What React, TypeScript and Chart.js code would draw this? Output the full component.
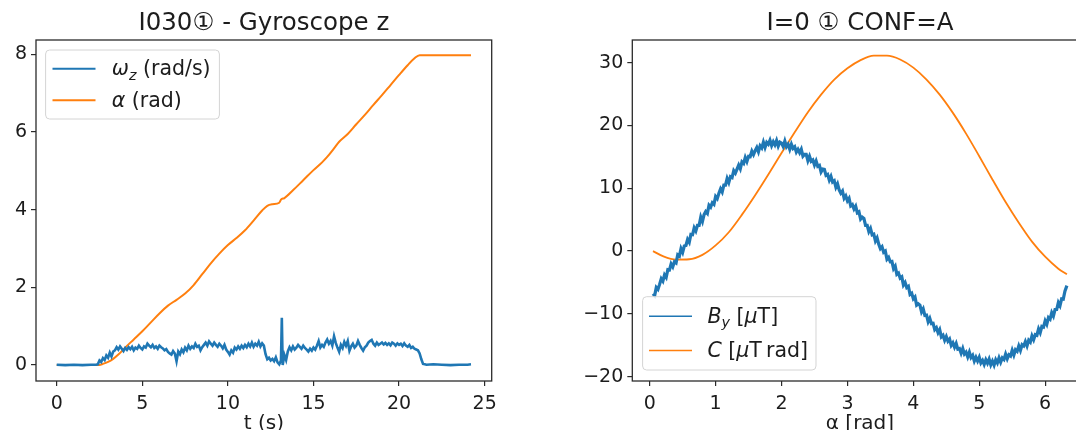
import React, { useEffect, useRef } from "react";
import { Chart, registerables } from "chart.js";

Chart.register(...registerables);

// ---------- tick labels ----------
const T_TICKS = [0, 5, 10, 15, 20, 25];
const LEFT_Y_TICKS = [0, 2, 4, 6, 8];
const A_TICKS = [0, 1, 2, 3, 4, 5, 6];
const RIGHT_Y_TICKS = [-20, -10, 0, 10, 20, 30];

// ---------- left panel: gyroscope ----------
const OMEGA_T = [
  0, 0.5, 1, 1.5, 2, 2.3,
  2.4, 2.5, 2.6, 2.7, 2.8, 2.9, 3.0, 3.1, 3.2, 3.3, 3.4, 3.5, 3.6, 3.7, 3.8, 3.9,
  4.0, 4.1, 4.2, 4.3, 4.4, 4.5, 4.6, 4.7, 4.8, 4.9, 5.0, 5.1, 5.2, 5.3, 5.4, 5.5, 5.6, 5.7, 5.8, 5.9,
  6.0, 6.1, 6.2, 6.3, 6.4, 6.5, 6.6, 6.7, 6.8, 6.9, 7.0, 7.1, 7.2, 7.3, 7.4, 7.5, 7.6, 7.7, 7.8, 7.9,
  8.0, 8.1, 8.2, 8.3, 8.4, 8.5, 8.6, 8.7, 8.8, 8.9, 9.0, 9.1, 9.2, 9.3, 9.4, 9.5, 9.6, 9.7, 9.8, 9.9,
  10.0, 10.1, 10.2, 10.3, 10.4, 10.5, 10.6, 10.7, 10.8, 10.9, 11.0, 11.1, 11.2, 11.3, 11.4, 11.5, 11.6, 11.7, 11.8, 11.9,
  12.0, 12.1, 12.2, 12.3, 12.4, 12.5, 12.6, 12.7, 12.8, 12.9, 13.0, 13.1, 13.15, 13.2, 13.3, 13.4, 13.5, 13.6, 13.7, 13.8, 13.9,
  14.0, 14.1, 14.2, 14.3, 14.4, 14.5, 14.6, 14.7, 14.8, 14.9, 15.0, 15.1, 15.2, 15.3, 15.4, 15.5, 15.6, 15.7, 15.8, 15.9,
  16.0, 16.1, 16.2, 16.3, 16.4, 16.5, 16.6, 16.7, 16.8, 16.9, 17.0, 17.1, 17.2, 17.3, 17.4, 17.5, 17.6, 17.7, 17.8, 17.9,
  18.0, 18.1, 18.2, 18.3, 18.4, 18.5, 18.6, 18.7, 18.8, 18.9, 19.0, 19.1, 19.2, 19.3, 19.4, 19.5, 19.6, 19.7, 19.8, 19.9,
  20.0, 20.1, 20.2, 20.3, 20.4, 20.5, 20.6, 20.7, 20.8, 20.9, 21.0, 21.1, 21.2, 21.3, 21.4, 21.5,
  21.6, 22, 22.5, 23, 23.5, 24, 24.2,
];
const OMEGA_Z = [
  0.01, 0.0, 0.01, 0.0, 0.01, 0.01,
  0.02, 0.12, 0.08, 0.18, 0.13, 0.25, 0.19, 0.32, 0.22, 0.35, 0.38, 0.46, 0.4, 0.48, 0.42, 0.36,
  0.44, 0.39, 0.46, 0.41, 0.47, 0.38, 0.45, 0.42, 0.5, 0.44, 0.4, 0.48, 0.45, 0.55, 0.5, 0.46, 0.52, 0.44, 0.48, 0.42,
  0.5, 0.46, 0.43, 0.38, 0.41, 0.34, 0.3, 0.27, 0.36, 0.3, 0.1, 0.35, 0.28, 0.4, 0.33, 0.45, 0.38, 0.5, 0.42, 0.48,
  0.44, 0.55, 0.47, 0.5, 0.38, 0.46, 0.52, 0.58, 0.5, 0.61, 0.55, 0.5, 0.58, 0.52, 0.47, 0.55, 0.5, 0.43, 0.52, 0.4,
  0.34, 0.27, 0.38, 0.32, 0.45, 0.4, 0.48, 0.42, 0.5, 0.44, 0.52, 0.46, 0.55, 0.48, 0.58, 0.47, 0.55, 0.5, 0.6, 0.48,
  0.56, 0.5, 0.28, 0.15, 0.19, 0.12, 0.16, 0.1, 0.2, 0.07, 0.02, 0.12, 1.22, 0.0, 0.26, 0.13, 0.35, 0.46, 0.38, 0.48, 0.4,
  0.45, 0.52, 0.47, 0.42, 0.5, 0.44, 0.4, 0.35, 0.42, 0.37, 0.45, 0.4, 0.5, 0.62, 0.45, 0.52, 0.47, 0.58, 0.66, 0.55,
  0.62, 0.5, 0.74, 0.57, 0.45, 0.34, 0.52, 0.44, 0.6, 0.5, 0.62, 0.37, 0.48, 0.55, 0.45, 0.5, 0.62, 0.52, 0.44, 0.37,
  0.46, 0.5, 0.58, 0.62, 0.65, 0.55, 0.5, 0.58, 0.52, 0.55, 0.58, 0.53, 0.57, 0.52, 0.56, 0.51, 0.58, 0.55, 0.5, 0.56,
  0.52, 0.55, 0.49, 0.56, 0.5, 0.47, 0.52, 0.44, 0.47, 0.42, 0.4, 0.38, 0.3, 0.15, 0.03, 0.02,
  0.01, 0.02, 0.01, 0.0, 0.01, 0.01, 0.02,
];

const ALPHA_T = [
  0, 2.4, 2.7, 3.0, 3.3, 3.6, 4.0, 4.5, 5.0, 5.5, 6.0, 6.5, 7.0, 7.5, 8.0, 8.5, 9.0, 9.5,
  10.0, 10.5, 11.0, 11.5, 12.0, 12.3, 12.6, 13.0, 13.1, 13.3, 13.8, 14.4, 15.0, 15.5, 15.8,
  16.2, 16.5, 17.0, 17.5, 18.0, 18.5, 19.0, 19.5, 20.0, 20.5, 20.9, 21.2, 24.2,
];
const ALPHA = [
  0, 0, 0.03, 0.08, 0.16, 0.27, 0.45, 0.66, 0.87, 1.1, 1.33, 1.53, 1.68, 1.84, 2.06, 2.34, 2.62, 2.87,
  3.09, 3.27, 3.47, 3.72, 3.98, 4.1, 4.14, 4.18, 4.26, 4.3, 4.5, 4.76, 5.02, 5.22, 5.36,
  5.58, 5.75, 5.95, 6.2, 6.44, 6.7, 6.95, 7.21, 7.47, 7.72, 7.9, 7.98, 7.98,
];

// ---------- right panel: field and its integral ----------
const BY_ALPHA = [
  0.05, 0.075, 0.1, 0.125, 0.15, 0.175, 0.2, 0.225, 0.25, 0.275, 0.3, 0.325, 0.35, 0.375, 0.4, 0.425, 0.45, 0.475,
  0.5, 0.525, 0.55, 0.575, 0.6, 0.625, 0.65, 0.675, 0.7, 0.725, 0.75, 0.775, 0.8, 0.825, 0.85, 0.875, 0.9, 0.925, 0.95, 0.975,
  1.0, 1.025, 1.05, 1.075, 1.1, 1.125, 1.15, 1.175, 1.2, 1.225, 1.25, 1.275, 1.3, 1.325, 1.35, 1.375, 1.4, 1.425, 1.45, 1.475,
  1.5, 1.525, 1.55, 1.575, 1.6, 1.625, 1.65, 1.675, 1.7, 1.725, 1.75, 1.775, 1.8, 1.825, 1.85, 1.875, 1.9, 1.925, 1.95, 1.975,
  2.0, 2.025, 2.05, 2.075, 2.1, 2.125, 2.15, 2.175, 2.2, 2.225, 2.25, 2.275, 2.3, 2.325, 2.35, 2.375, 2.4, 2.425, 2.45, 2.475,
  2.5, 2.525, 2.55, 2.575, 2.6, 2.625, 2.65, 2.675, 2.7, 2.725, 2.75, 2.775, 2.8, 2.825, 2.85, 2.875, 2.9, 2.925, 2.95, 2.975,
  3.0, 3.025, 3.05, 3.075, 3.1, 3.125, 3.15, 3.175, 3.2, 3.225, 3.25, 3.275, 3.3, 3.325, 3.35, 3.375, 3.4, 3.425, 3.45, 3.475,
  3.5, 3.525, 3.55, 3.575, 3.6, 3.625, 3.65, 3.675, 3.7, 3.725, 3.75, 3.775, 3.8, 3.825, 3.85, 3.875, 3.9, 3.925, 3.95, 3.975,
  4.0, 4.025, 4.05, 4.075, 4.1, 4.125, 4.15, 4.175, 4.2, 4.225, 4.25, 4.275, 4.3, 4.325, 4.35, 4.375, 4.4, 4.425, 4.45, 4.475,
  4.5, 4.525, 4.55, 4.575, 4.6, 4.625, 4.65, 4.675, 4.7, 4.725, 4.75, 4.775, 4.8, 4.825, 4.85, 4.875, 4.9, 4.925, 4.95, 4.975,
  5.0, 5.025, 5.05, 5.075, 5.1, 5.125, 5.15, 5.175, 5.2, 5.225, 5.25, 5.275, 5.3, 5.325, 5.35, 5.375, 5.4, 5.425, 5.45, 5.475,
  5.5, 5.525, 5.55, 5.575, 5.6, 5.625, 5.65, 5.675, 5.7, 5.725, 5.75, 5.775, 5.8, 5.825, 5.85, 5.875, 5.9, 5.925, 5.95, 5.975,
  6.0, 6.025, 6.05, 6.075, 6.1, 6.125, 6.15, 6.175, 6.2, 6.225, 6.25, 6.275, 6.3, 6.33,
];
const BY = [
  -6.8, -7.1, -5.8, -6.1, -5.3, -4.4, -4.8, -3.8, -4.2, -2.95, -3.0, -2.05, -2.5, -1.7, -1.9, -0.6, -0.8, 0.4,
  -0.2, 0.8, 0.9, 1.85, 1.4, 2.65, 2.6, 3.7, 3.2, 4.1, 4.1, 5.4, 4.7, 5.8, 6.3, 6.0, 7.3, 7.0, 7.7, 7.45,
  8.7, 8.35, 9.2, 9.9, 9.4, 10.5, 10.5, 11.55, 10.9, 11.85, 11.7, 12.8, 12.4, 13.05, 13.7, 13.1, 14.2, 13.95, 14.9, 14.25,
  15.1, 15.05, 15.9, 15.35, 16.0, 16.5, 15.8, 16.75, 16.4, 17.35, 16.5, 17.3, 17.0, 17.65, 16.8, 17.4, 16.9, 17.6, 16.7, 17.35,
  17.2, 16.65, 17.5, 16.6, 17.0, 16.2, 17.0, 16.35, 16.6, 15.75, 16.2, 15.65, 16.2, 15.1, 15.4, 15.4, 14.4, 15.1, 14.3, 14.5,
  13.7, 14.35, 13.5, 13.65, 12.6, 13.05, 13.0, 12.05, 12.2, 11.3, 11.9, 11.0, 11.2, 10.15, 10.7, 9.75, 9.2, 9.55, 8.4, 8.8,
  8.0, 8.4, 7.2, 7.4, 6.7, 7.15, 6.1, 6.25, 5.1, 5.4, 5.2, 4.1, 4.1, 3.1, 3.6, 2.6, 2.7, 1.6, 2.1, 1.1,
  0.4, 0.7, -0.2, 0.0, -1.3, -1.0, -1.7, -1.65, -2.8, -2.4, -3.7, -3.5, -4.3, -4.1, -5.4, -5.0, -5.8, -5.6, -6.9, -6.7,
  -7.6, -7.3, -8.6, -8.4, -8.6, -9.7, -9.2, -10.25, -10.2, -11.25, -10.7, -11.55, -11.5, -12.5, -12.2, -13.0, -12.5, -13.65, -13.4, -14.2,
  -13.6, -14.35, -14.0, -15.0, -14.6, -15.3, -14.7, -15.6, -15.5, -16.25, -15.5, -16.4, -16.1, -16.85, -16.1, -16.95, -16.6, -17.5, -16.9, -17.5,
  -16.9, -17.8, -17.4, -18.05, -17.3, -17.85, -17.2, -18.1, -17.5, -18.15, -17.3, -17.8, -17.0, -17.7, -17.0, -17.25, -16.4, -17.15, -16.5, -16.7,
  -15.8, -16.55, -15.7, -15.95, -15.1, -15.8, -14.9, -15.1, -14.4, -15.1, -14.2, -14.5, -13.5, -14.1, -13.3, -13.4, -12.4, -13.0, -12.0, -12.1,
  -11.1, -11.65, -10.6, -10.85, -9.8, -10.35, -9.3, -9.3, -8.2, -8.7, -7.6, -7.65, -6.4, -5.5,
];

const C_ALPHA = [
  0.05, 0.2, 0.4, 0.6, 0.8, 1.0, 1.2, 1.4, 1.6, 1.8, 2.0, 2.2, 2.4, 2.6, 2.8, 3.0, 3.2, 3.4,
  3.6, 3.8, 4.0, 4.2, 4.4, 4.6, 4.8, 5.0, 5.2, 5.4, 5.6, 5.8, 6.0, 6.2, 6.33,
];
const C_VAL = [
  0.0, -0.8, -1.35, -1.3, -0.6, 0.9, 3.0, 5.8, 8.9, 12.2, 15.6, 18.9, 22.1, 24.9, 27.3, 29.1, 30.4, 31.1,
  31.1, 30.5, 29.2, 27.3, 24.9, 22.0, 18.7, 15.1, 11.4, 7.8, 4.5, 1.5, -0.9, -2.8, -3.7,
];

const BLUE = "#1f77b4";
const ORANGE = "#ff7f0e";
const FONT = '"DejaVu Sans", "Noto Sans", sans-serif';
const TEXT = "#1c1c1c";

type Part = { t: string; it?: boolean; sub?: boolean };

const partFont = (p: Part, fs: number) =>
  `${p.it ? "italic " : ""}${p.sub ? fs * 0.7 : fs}px ${FONT}`;

const measureParts = (ctx: CanvasRenderingContext2D, parts: Part[], fs: number) => {
  let w = 0;
  for (const p of parts) {
    ctx.font = partFont(p, fs);
    w += ctx.measureText(p.t).width;
  }
  return w;
};

const framePlugin = {
  id: "frame",
  afterDatasetsDraw(chart: any) {
    const { ctx, chartArea: a } = chart;
    ctx.save();
    ctx.strokeStyle = "#2b2b2b";
    ctx.lineWidth = 1.3;
    ctx.strokeRect(a.left, a.top, a.right - a.left, a.bottom - a.top);
    ctx.restore();
  },
};

const mathLegendPlugin = {
  id: "mathLegend",
  afterDraw(chart: any, _args: any, o: any) {
    if (!o || !o.items) return;
    const { ctx, chartArea: a } = chart;
    const fs = o.fontSize;
    const textW = Math.max(...o.items.map((it: any) => measureParts(ctx, it.parts, fs)));
    const w = o.padL + o.handle + o.gap + textW + o.padR;
    const h = o.rowH * o.items.length + o.padV * 2;
    const x0 = a.left + o.offX;
    const y0 = o.corner === "tl" ? a.top + o.offY : a.bottom - o.offY - h;
    ctx.save();
    ctx.beginPath();
    const r = 4;
    ctx.moveTo(x0 + r, y0);
    ctx.arcTo(x0 + w, y0, x0 + w, y0 + h, r);
    ctx.arcTo(x0 + w, y0 + h, x0, y0 + h, r);
    ctx.arcTo(x0, y0 + h, x0, y0, r);
    ctx.arcTo(x0, y0, x0 + w, y0, r);
    ctx.closePath();
    ctx.fillStyle = "rgba(255,255,255,0.85)";
    ctx.fill();
    ctx.strokeStyle = "#d4d4d4";
    ctx.lineWidth = 1;
    ctx.stroke();
    o.items.forEach((it: any, i: number) => {
      const cy = y0 + o.padV + o.rowH * (i + 0.5);
      ctx.beginPath();
      ctx.strokeStyle = it.color;
      ctx.lineWidth = o.lineW;
      ctx.moveTo(x0 + o.padL, cy);
      ctx.lineTo(x0 + o.padL + o.handle, cy);
      ctx.stroke();
      let x = x0 + o.padL + o.handle + o.gap;
      const base = cy + fs * 0.31;
      ctx.fillStyle = TEXT;
      ctx.textBaseline = "alphabetic";
      ctx.textAlign = "left";
      for (const p of it.parts as Part[]) {
        ctx.font = partFont(p, fs);
        ctx.fillText(p.t, x, p.sub ? base + fs * 0.22 : base);
        x += ctx.measureText(p.t).width;
      }
    });
    ctx.restore();
  },
};

const minus = (v: any) => String(v).replace("-", "\u2212");

function axisCommon(ticksArr: number[], fontSize: number, pad: number) {
  return {
    type: "linear" as const,
    afterBuildTicks: (s: any) => {
      s.ticks = ticksArr.map((v) => ({ value: v }));
    },
    grid: { drawOnChartArea: false, drawTicks: true, tickLength: 5, color: "#2b2b2b", lineWidth: 1.2 },
    border: { display: false },
    ticks: {
      font: { family: FONT, size: fontSize },
      color: TEXT,
      padding: pad,
      maxRotation: 0,
      autoSkip: false,
      callback: (v: any) => minus(v),
    },
  };
}

const TICK_FS = 19;
const TITLE_FS = 24.5;
const LABEL_FS = 20;
const LEGEND_FS = 20.5;

export default function App() {
  const leftRef = useRef<HTMLCanvasElement>(null);
  const rightRef = useRef<HTMLCanvasElement>(null);

  useEffect(() => {
    const left = new Chart(leftRef.current as HTMLCanvasElement, {
      type: "line",
      data: {
        datasets: [
          {
            label: "omega_z",
            data: OMEGA_T.map((t, i) => ({ x: t, y: OMEGA_Z[i] })),
            borderColor: BLUE,
            borderWidth: 2.6,
            pointRadius: 0,
            tension: 0,
          },
          {
            label: "alpha",
            data: ALPHA_T.map((t, i) => ({ x: t, y: ALPHA[i] })),
            borderColor: ORANGE,
            borderWidth: 2,
            pointRadius: 0,
            cubicInterpolationMode: "monotone",
          },
        ],
      },
      options: {
        animation: false,
        responsive: false,
        maintainAspectRatio: false,
        layout: { padding: { left: 0, right: 48.3, top: 0, bottom: 0 } },
        scales: {
          x: {
            ...axisCommon(T_TICKS, TICK_FS, 7),
            min: -1.21,
            max: 25.41,
            afterFit: (s: any) => {
              s.height = 79;
            },
            title: {
              display: true,
              text: "t (s)",
              color: TEXT,
              font: { family: FONT, size: LABEL_FS },
              padding: { top: 0, bottom: 24 },
            },
          },
          y: {
            ...axisCommon(LEFT_Y_TICKS, TICK_FS, 4),
            min: -0.41,
            max: 8.37,
            afterFit: (s: any) => {
              s.width = 36;
            },
          },
        },
        plugins: {
          legend: { display: false },
          tooltip: { enabled: false },
          title: {
            display: true,
            text: "I030\u2460 - Gyroscope z",
            fullSize: false,
            color: TEXT,
            font: { family: FONT, size: TITLE_FS, weight: "normal" },
            padding: { top: 9.3, bottom: 1.3 },
          },
          mathLegend: {
            corner: "tl",
            offX: 9.6,
            offY: 10,
            fontSize: LEGEND_FS,
            rowH: 31.7,
            padV: 2.8,
            padL: 6.9,
            handle: 43,
            gap: 16.3,
            padR: 8.8,
            lineW: 2,
            items: [
              { color: BLUE, parts: [{ t: "\u03c9", it: true }, { t: "z", it: true, sub: true }, { t: " (rad/s)" }] },
              { color: ORANGE, parts: [{ t: "\u03b1", it: true }, { t: " (rad)" }] },
            ],
          },
        } as any,
      },
      plugins: [framePlugin, mathLegendPlugin],
    } as any);

    const right = new Chart(rightRef.current as HTMLCanvasElement, {
      type: "line",
      data: {
        datasets: [
          {
            label: "By",
            data: BY_ALPHA.map((a, i) => ({ x: a, y: BY[i] })),
            borderColor: BLUE,
            borderWidth: 3.2,
            pointRadius: 0,
            tension: 0,
          },
          {
            label: "C",
            data: C_ALPHA.map((a, i) => ({ x: a, y: C_VAL[i] })),
            borderColor: ORANGE,
            borderWidth: 1.8,
            pointRadius: 0,
            cubicInterpolationMode: "monotone",
          },
        ],
      },
      options: {
        animation: false,
        responsive: false,
        maintainAspectRatio: false,
        layout: { padding: { left: 0, right: 12.4, top: 0, bottom: 0 } },
        scales: {
          x: {
            ...axisCommon(A_TICKS, TICK_FS, 7),
            min: -0.264,
            max: 6.644,
            afterFit: (s: any) => {
              s.height = 79;
            },
            title: {
              display: true,
              text: "\u03b1 [rad]",
              color: TEXT,
              font: { family: FONT, size: LABEL_FS },
              padding: { top: 0, bottom: 24 },
            },
          },
          y: {
            ...axisCommon(RIGHT_Y_TICKS, TICK_FS, 4),
            min: -20.68,
            max: 33.6,
            afterFit: (s: any) => {
              s.width = 92.3;
            },
          },
        },
        plugins: {
          legend: { display: false },
          tooltip: { enabled: false },
          title: {
            display: true,
            text: "I=0 \u2460 CONF=A",
            fullSize: false,
            color: TEXT,
            font: { family: FONT, size: TITLE_FS, weight: "normal" },
            padding: { top: 9.3, bottom: 1.3 },
          },
          mathLegend: {
            corner: "bl",
            offX: 10.3,
            offY: 11,
            fontSize: LEGEND_FS,
            rowH: 34.3,
            padV: 2.35,
            padL: 6.4,
            handle: 43,
            gap: 15.5,
            padR: 8,
            lineW: 1.6,
            items: [
              { color: BLUE, parts: [{ t: "B", it: true }, { t: "y", it: true, sub: true }, { t: " [" }, { t: "\u03bc", it: true }, { t: "T]" }] },
              { color: ORANGE, parts: [{ t: "C", it: true }, { t: " [" }, { t: "\u03bc", it: true }, { t: "T\u2009rad]" }] },
            ],
          },
        } as any,
      },
      plugins: [framePlugin, mathLegendPlugin],
    } as any);

    return () => {
      left.destroy();
      right.destroy();
    };
  }, []);

  return (
    <div
      style={{
        position: "fixed",
        left: 0,
        top: 0,
        width: 1076,
        height: 430,
        overflow: "hidden",
        background: "#ffffff",
      }}
    >
      <canvas ref={leftRef} width={540} height={460} style={{ position: "absolute", left: 0, top: 0 }} />
      <canvas ref={rightRef} width={560} height={460} style={{ position: "absolute", left: 540, top: 0 }} />
    </div>
  );
}
